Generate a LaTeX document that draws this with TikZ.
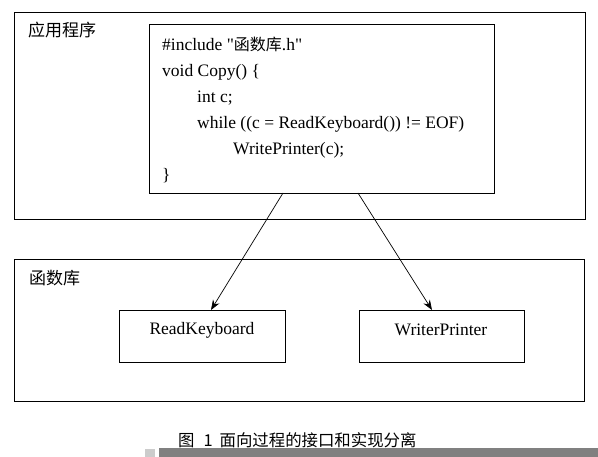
\documentclass[tikz,border=0pt]{standalone}
\usepackage{fontspec}
\setmainfont{Liberation Serif}[Ligatures=TeXOff]
\newfontfamily\cjk{Noto Sans CJK SC}
\usetikzlibrary{arrows.meta}
\begin{document}
\begin{tikzpicture}[x=1pt,y=-1pt,
  box/.style={draw,line width=0.8pt},
  code/.style={anchor=base west,font=\fontsize{17.5}{20}\selectfont,inner sep=0},
  lbl/.style={anchor=west,font=\cjk\fontsize{17}{20}\selectfont,inner sep=0},
  fn/.style={font=\fontsize{17.5}{20}\selectfont,inner sep=0},
  arr/.style={-{Stealth[length=10pt,width=7.5pt]},line width=0.7pt}]
\useasboundingbox (0,0) rectangle (598,457);
\fill[white] (0,0) rectangle (598,457);
% outer boxes
\draw[box] (14,12) rectangle (585,219);
\draw[box] (14,259) rectangle (584,401);
\node[lbl] (app) at (28,30) {应用程序};
\node[lbl] (lib) at (29,278) {函数库};
% code box
\node[box,minimum width=345pt,minimum height=169pt,anchor=north west] (codebox) at (149,24) {};
\node[code] (l1) at (162,51) {\#include "{\cjk\fontsize{16}{20}\selectfont 函数库}.h"};
\node[code] (l2) at (162,77) {void Copy() \{};
\node[code] (l3) at (197,103) {int c;};
\node[code] (l4) at (197,129) {while ((c = ReadKeyboard()) != EOF)};
\node[code] (l5) at (233,155) {WritePrinter(c);};
\node[code] (l6) at (162,181) {\}};
% library functions
\node[box,minimum width=166pt,minimum height=52pt,anchor=north west] (rk) at (119,310) {};
\node[fn] (rkt) at (202,330) {ReadKeyboard};
\node[box,minimum width=165pt,minimum height=52pt,anchor=north west] (wp) at (359,310) {};
\node[fn] (wpt) at (441,330) {WriterPrinter};
\coordinate (s1) at (283,193);
\coordinate (s2) at (358,193);
\coordinate (e1) at (211,310);
\coordinate (e2) at (432,310);
\draw[arr] (s1) -- (e1);
\draw[arr] (s2) -- (e2);
% caption
\node[lbl,font=\cjk\fontsize{16.4}{18}\selectfont] (cap) at (178,440) {图\hspace{9pt}1\hspace{7pt}面向过程的接口和实现分离};
\fill[black!50] (159,448) rectangle (598,457);
\fill[black!20] (145,449) rectangle (155,457);
\end{tikzpicture}
\end{document}
